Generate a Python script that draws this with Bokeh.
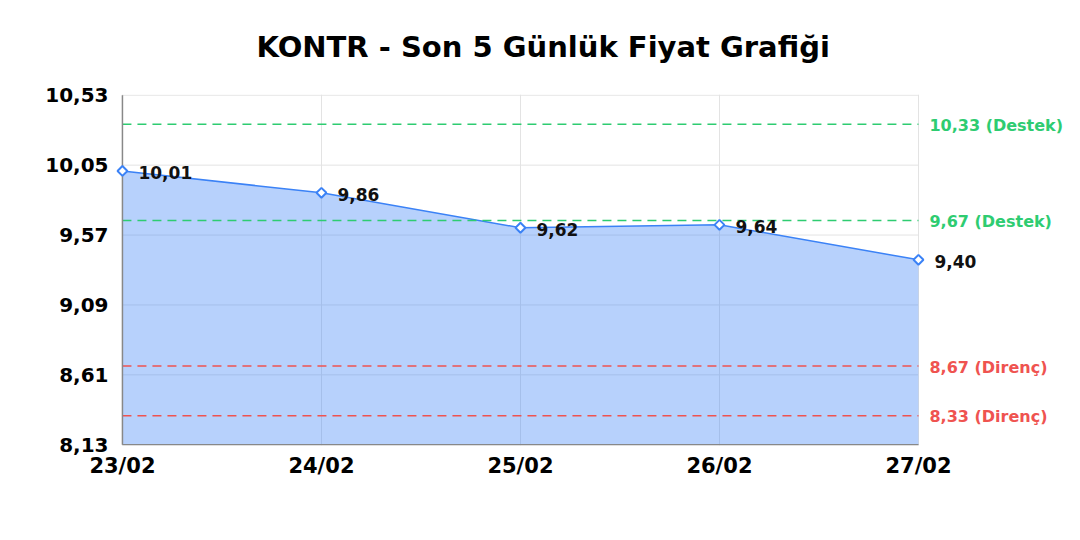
import math
from bokeh.plotting import figure
from bokeh.models import FixedTicker, ColumnDataSource
from bokeh.core.properties import value
from bokeh.embed import file_html
from bokeh.resources import INLINE

dates = ["23/02", "24/02", "25/02", "26/02", "27/02"]
prices = [10.01, 9.86, 9.62, 9.64, 9.40]
price_labels = ["10,01", "9,86", "9,62", "9,64", "9,40"]
y_ticks = [8.13, 8.61, 9.09, 9.57, 10.05, 10.53]
y_tick_labels = ["8,13", "8,61", "9,09", "9,57", "10,05", "10,53"]
support_levels = [10.33, 9.67]
support_labels = ["10,33 (Destek)", "9,67 (Destek)"]
resistance_levels = [8.67, 8.33]
resistance_labels = ["8,67 (Direnç)", "8,33 (Direnç)"]

FONT = "DejaVu Sans"
BLUE = "#3b82f6"
GREEN = "#2ecc71"
RED = "#ef5350"
xs = list(range(len(dates)))
x0, x1 = xs[0], xs[-1]

p = figure(width=1072, height=524, output_backend="svg", toolbar_location=None,
           x_range=(-0.06, 4.774), y_range=(8.125, 10.535),
           frame_width=962, frame_height=351,
           min_border_left=110, min_border_right=0, min_border_top=23,
           title="KONTR - Son 5 Günlük Fiyat Grafiği")
p.title.align = "left"
p.title.vertical_align = "top"
p.title.offset = 146
p.title.text_font = FONT
p.title.text_font_size = "29px"
p.title.text_font_style = "bold"
p.title.text_color = "#000000"
p.title.standoff = 58
p.outline_line_color = None
p.background_fill_color = "white"
p.border_fill_color = "white"

# grid
p.xgrid.ticker = FixedTicker(ticks=xs)
p.xgrid.grid_line_color = "#e3e3e3"
p.ygrid.visible = False
p.segment(x0=[x0] * len(y_ticks), x1=[x1] * len(y_ticks), y0=y_ticks, y1=y_ticks,
          line_color="#e3e3e3", line_width=1)

src = ColumnDataSource(dict(x=xs, y=prices, lbl=price_labels, base=[y_ticks[0]] * len(xs)))
p.varea(x="x", y1="base", y2="y", source=src, fill_color=BLUE, fill_alpha=0.37)
p.line(x="x", y="y", source=src, line_color=BLUE, line_width=1.5)

# support / resistance lines
for lv in support_levels:
    p.segment(x0=[x0], x1=[x1], y0=[lv], y1=[lv], line_color=GREEN,
              line_dash="9 6", line_width=1.5)
for lv in resistance_levels:
    p.segment(x0=[x0], x1=[x1], y0=[lv], y1=[lv], line_color=RED,
              line_dash="9 6", line_width=1.5)

# axis lines
p.segment(x0=[x0], x1=[x0], y0=[y_ticks[0]], y1=[y_ticks[-1]], line_color="#888888", line_width=1.5)
p.segment(x0=[x0], x1=[x1], y0=[y_ticks[0]], y1=[y_ticks[0]], line_color="#888888", line_width=1.5)

p.scatter(x="x", y="y", source=src, marker="square", size=7, angle=math.pi / 4,
          fill_color="white", line_color=BLUE, line_width=2)
p.text(x="x", y="y", text="lbl", source=src, x_offset=16, y_offset=2,
       text_font=value(FONT), text_font_style="bold", text_font_size="17px",
       text_baseline="middle", text_color="#111111")

p.text(x=[x1] * len(support_levels), y=support_levels, text=support_labels,
       x_offset=11, y_offset=1, text_font=value(FONT), text_font_style="bold",
       text_font_size="16px", text_baseline="middle", text_color=GREEN)
p.text(x=[x1] * len(resistance_levels), y=resistance_levels, text=resistance_labels,
       x_offset=11, y_offset=1, text_font=value(FONT), text_font_style="bold",
       text_font_size="16px", text_baseline="middle", text_color=RED)

p.xaxis.ticker = FixedTicker(ticks=xs)
p.xaxis.major_label_overrides = {i: d for i, d in zip(xs, dates)}
p.yaxis.ticker = FixedTicker(ticks=y_ticks)
p.yaxis.major_label_overrides = {t: l for t, l in zip(y_ticks, y_tick_labels)}
for ax in (p.xaxis, p.yaxis):
    ax.major_label_text_font = FONT
    ax.major_label_text_font_style = "bold"
    ax.major_label_text_color = "#000000"
    ax.axis_line_color = None
    ax.major_tick_line_color = None
    ax.minor_tick_line_color = None
    ax.major_tick_out = 0
    ax.major_tick_in = 0
p.xaxis.major_label_text_font_size = "21px"
p.yaxis.major_label_text_font_size = "20px"
p.xaxis.major_label_standoff = 8
p.yaxis.major_label_standoff = 2

open("out.html", "w").write(file_html(p, INLINE))
